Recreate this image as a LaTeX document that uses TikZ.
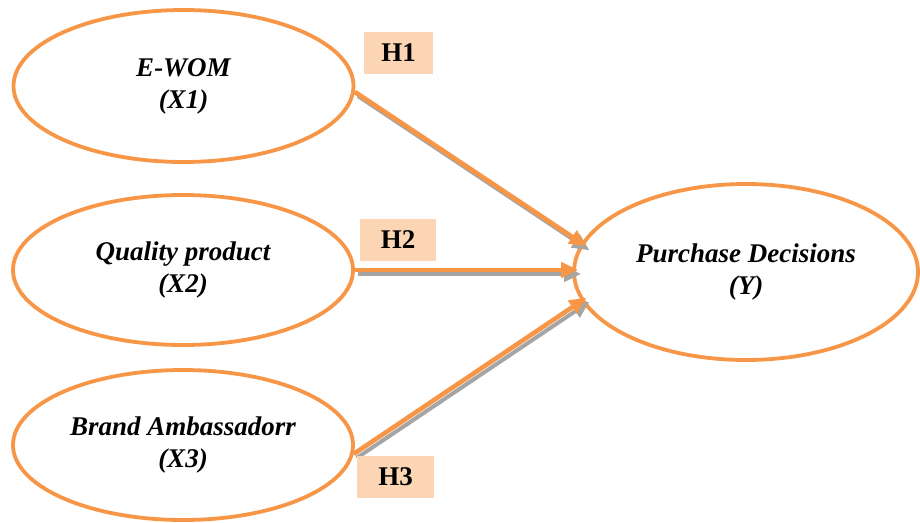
\documentclass[tikz,border=0pt]{standalone}
\usepackage{fontspec}
\setmainfont{Liberation Serif}
\usepackage{tikz}
\usetikzlibrary{shapes.geometric,arrows.meta}
\definecolor{accent}{HTML}{F79646}
\definecolor{tagfill}{HTML}{FCD5B4}
\definecolor{shade}{HTML}{A5A5A5}
\tikzset{
  var/.style={ellipse, draw=accent, line width=3.8pt, fill=white, align=center, inner sep=0pt,
    font=\fontsize{27}{32}\selectfont\bfseries\itshape},
  effect/.style={draw=accent, line width=4.6pt, shorten >=-6pt, -{Triangle[length=17pt,width=15pt]}},
  effectshade/.style={draw=shade, line width=4pt, shorten >=-6pt, -{Triangle[length=17pt,width=15pt]}},
  hyp/.style={fill=tagfill, inner sep=0pt, minimum height=42pt, font=\fontsize{27}{30}\selectfont\bfseries}
}

\begin{document}
\begin{tikzpicture}[x=1pt, y=-1pt, line cap=butt, line join=miter]
  \useasboundingbox (0,0) rectangle (920,522);
  % constructs
  \node[var, minimum width=340pt, minimum height=152pt] (ewom) at (183.5,86) {E-WOM\\(X1)};
  \node[var, minimum width=340pt, minimum height=150pt] (quality) at (183,270) {Quality product\\(X2)};
  \node[var, minimum width=340pt, minimum height=150pt] (brand) at (183,445) {Brand Ambassadorr\\(X3)};
  \node[var, minimum width=344pt, minimum height=176pt] (purchase) at (746,272) {Purchase Decisions\\(Y)};
  % paths with shadow
  \draw[effectshade] ([xshift=3pt,yshift=-4pt]ewom.-2) -- ([xshift=3pt,yshift=-4pt]purchase.170);
  \draw[effect] (ewom.-2) -- (purchase.170);
  \draw[effectshade] ([xshift=3pt,yshift=-4pt]quality.east) -- ([xshift=3pt,yshift=-4pt]quality.east -| purchase.west);
  \draw[effect] (quality.east) -- (quality.east -| purchase.west);
  \draw[effectshade] ([xshift=3pt,yshift=-4pt]brand.-3) -- ([xshift=3pt,yshift=-4pt]purchase.190);
  \draw[effect] (brand.-3) -- (purchase.190);
  % hypotheses
  \node[hyp, minimum width=69pt] (h1) at (398.5,53) {H1};
  \node[hyp, minimum width=76pt] (h2) at (398,239.5) {H2};
  \node[hyp, minimum width=77pt] (h3) at (395.5,477) {H3};
\end{tikzpicture}
\end{document}
